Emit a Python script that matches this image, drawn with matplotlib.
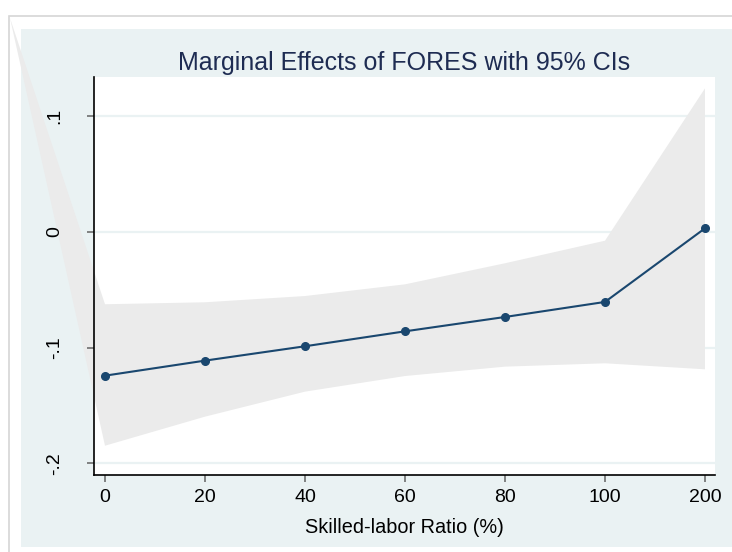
import numpy as np
import matplotlib.pyplot as plt
from matplotlib.patches import Rectangle

# values
ratio_labels = ['0', '20', '40', '60', '80', '100', '200']
effect = [-0.1243, -0.1113, -0.0989, -0.0860, -0.0736, -0.0606, 0.0030]
ci_upper = [-0.0626, -0.0609, -0.0555, -0.0454, -0.0272, -0.0077, 0.1239]
ci_lower = [-0.1848, -0.1597, -0.1381, -0.1246, -0.1165, -0.1136, -0.1188]
y_ticks = [-0.2, -0.1, 0.0, 0.1]
y_tick_labels = ['-.2', '-.1', '0', '.1']

navy = '#1a476f'
bg = '#eaf2f3'
plt.rcParams['font.family'] = ['Liberation Sans', 'DejaVu Sans']

W, H = 732, 552
fig = plt.figure(figsize=(W / 100, H / 100), dpi=100)
fig.patch.set_facecolor('white')

# outer frame and graph region (Stata style)
fig.patches.append(Rectangle((9 / W, -0.1), 1.2, 1.1 - 16 / H, transform=fig.transFigure,
                             facecolor='white', edgecolor='#d6d6d6', lw=1.2, zorder=-10))
fig.patches.append(Rectangle((21 / W, 1 - 547 / H), 1.0, (547 - 29) / H, transform=fig.transFigure,
                             facecolor=bg, edgecolor='none', zorder=-9))

ax = fig.add_axes([94 / W, 1 - 475 / H, (715 - 94) / W, (475 - 77) / H])
ax.set_facecolor('white')

x = np.arange(len(ratio_labels))
ax.set_xlim(-0.11, 6.10)
ax.set_ylim(-0.2101, 0.1337)

# CI band; the polygon in the reference has a stray vertex at the frame corner
fig.canvas.draw()
corner = ax.transData.inverted().transform(fig.transFigure.transform((10 / W, 1 - 18 / H)))
poly_x = list(x) + list(x[::-1]) + [corner[0]]
poly_y = list(ci_upper) + list(ci_lower[::-1]) + [corner[1]]
ax.fill(poly_x, poly_y, color='#ebebeb', lw=0, clip_on=False, zorder=1)

for yt in y_ticks:
    ax.axhline(yt, color=bg, lw=1.6, zorder=0.5)

ax.plot(x, effect, color=navy, lw=1.5, marker='o', ms=5.5, zorder=3)

ax.set_xticks(x)
ax.set_xticklabels(ratio_labels, fontsize=14)
ax.set_yticks(y_ticks)
ax.set_yticklabels(y_tick_labels, fontsize=14, rotation=90, va='center')
ax.tick_params(axis='both', length=5, width=1.2, color='#6e6e6e')
ax.tick_params(axis='x', pad=5)
ax.tick_params(axis='y', pad=17)

for s in ['top', 'right']:
    ax.spines[s].set_visible(False)
for s in ['left', 'bottom']:
    ax.spines[s].set_color('black')
    ax.spines[s].set_linewidth(1.2)
    ax.spines[s].set_zorder(4)

ax.set_xlabel('Skilled-labor Ratio (%)', fontsize=14.3, labelpad=9)
ax.set_title('Marginal Effects of FORES with 95% CIs', fontsize=18, color='#1e2c52', pad=5)

fig.savefig('out.png', dpi=100)
